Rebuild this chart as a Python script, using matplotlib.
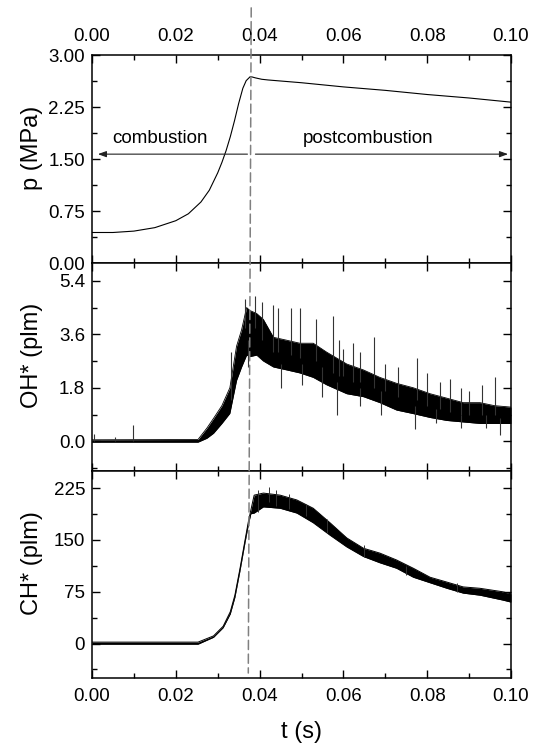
import numpy as np
import matplotlib
matplotlib.use("Agg")
import matplotlib.pyplot as plt
from matplotlib.ticker import MultipleLocator, FormatStrFormatter
from matplotlib.patches import ConnectionPatch

plt.rcParams['font.family'] = ['Liberation Sans', 'DejaVu Sans']

# ---- data ----
# pressure trace
t_p = [0.000, 0.005, 0.010, 0.015, 0.020, 0.023, 0.026, 0.028, 0.030, 0.031, 0.032,
       0.033, 0.034, 0.035, 0.036, 0.0368, 0.0378, 0.039, 0.0405, 0.042, 0.050,
       0.060, 0.070, 0.080, 0.090, 0.100]
p_mpa = [0.44, 0.44, 0.46, 0.51, 0.61, 0.71, 0.88, 1.05, 1.30, 1.45, 1.62,
         1.82, 2.05, 2.30, 2.52, 2.63, 2.69, 2.67, 2.65, 2.64, 2.60,
         2.54, 2.49, 2.43, 2.38, 2.32]

# OH* signal: lower / upper edge of the dense band
t_oh = [0.000, 0.0253, 0.0274, 0.0290, 0.0310, 0.0329, 0.0345, 0.0357, 0.0369, 0.0377,
        0.0393, 0.0409, 0.0433, 0.0465, 0.0496, 0.0528, 0.0560, 0.0608, 0.0648, 0.0687,
        0.0727, 0.0767, 0.0807, 0.0847, 0.0886, 0.0926, 0.0960, 0.1000]
oh_lo = [-0.03, -0.03, 0.10, 0.27, 0.60, 0.94, 2.05, 2.50, 2.90, 2.85,
         2.90, 2.70, 2.50, 2.40, 2.30, 2.15, 1.90, 1.60, 1.50, 1.30,
         1.05, 0.93, 0.80, 0.70, 0.65, 0.60, 0.60, 0.60]
oh_hi = [0.05, 0.06, 0.44, 0.77, 1.20, 1.80, 3.20, 3.75, 4.50, 4.40,
         4.30, 4.10, 3.50, 3.40, 3.30, 3.30, 3.00, 2.60, 2.40, 2.15,
         1.95, 1.80, 1.60, 1.45, 1.30, 1.30, 1.20, 1.15]
# OH* spikes: time, from, to
oh_spk_t = [0.0005, 0.0054, 0.0098, 0.0331, 0.0365, 0.0373, 0.0390, 0.0405, 0.0432, 0.0445,
            0.0450, 0.0475, 0.0496, 0.0500, 0.0535, 0.0550, 0.0575, 0.0584, 0.0590, 0.0600,
            0.0622, 0.0640, 0.0640, 0.0672, 0.0690, 0.0700, 0.0730, 0.0771, 0.0776, 0.0800,
            0.0820, 0.0830, 0.0854, 0.0880, 0.0880, 0.0900, 0.0930, 0.0940, 0.0962, 0.0974]
oh_spk_a = [0.0, 0.0, 0.0, 1.4, 3.8, 3.4, 3.8, 3.4, 3.0, 3.0,
            2.6, 2.9, 2.8, 2.6, 2.7, 2.5, 2.3, 2.0, 2.2, 2.2,
            2.0, 2.0, 1.8, 1.8, 1.7, 1.7, 1.5, 1.2, 1.4, 1.2,
            1.1, 1.1, 1.0, 0.9, 0.9, 0.9, 0.9, 0.9, 0.9, 0.8]
oh_spk_b = [0.25, 0.15, 0.55, 3.0, 4.8, 2.5, 4.9, 4.7, 4.6, 4.5,
            1.8, 4.5, 4.5, 1.9, 4.1, 1.5, 4.2, 0.87, 3.4, 3.1,
            3.3, 3.0, 1.2, 3.5, 0.9, 2.6, 2.5, 0.42, 2.8, 2.3,
            0.6, 2.0, 2.1, 1.8, 0.45, 1.7, 1.9, 0.45, 2.15, 0.2]

# CH* signal band
t_ch = [0.000, 0.0253, 0.0290, 0.0313, 0.0330, 0.0341, 0.0353, 0.0365, 0.0373, 0.0379,
        0.0387, 0.0409, 0.0449, 0.0489, 0.0528, 0.0568, 0.0608, 0.0648, 0.0687, 0.0727,
        0.0767, 0.0807, 0.0847, 0.0886, 0.0926, 0.0980, 0.1000]
ch_lo = [-1, -1, 9, 23, 43, 67, 105, 146, 172, 188,
         189, 198, 196, 189, 175, 157, 140, 126, 117, 109,
         96, 88, 80, 73, 70, 63, 60]
ch_hi = [2, 2, 11, 25, 46, 70, 108, 149, 176, 193,
         215, 218, 215, 208, 196, 175, 153, 138, 131, 121,
         109, 96, 89, 82, 80, 75, 72]
ch_spk_t = [0.0395, 0.0423, 0.0440, 0.0470, 0.0510, 0.0560, 0.0650, 0.0750, 0.0870]
ch_spk_a = [190, 205, 200, 195, 185, 160, 125, 100, 75]
ch_spk_b = [222, 227, 222, 216, 202, 180, 143, 113, 88]

t_end_comb = [0.0380, 0.0373]   # dashed line at top / bottom
y_arrow = 1.57
arr_left = [0.0014, 0.0371]
arr_right = [0.0390, 0.0993]

# ---- figure ----
fig = plt.figure(figsize=(5.36, 7.56), dpi=100)
L, W = 92 / 536, 419 / 536
ax0 = fig.add_axes([L, 1 - 263 / 756, W, 208 / 756])
ax1 = fig.add_axes([L, 1 - 471 / 756, W, 208 / 756])
ax2 = fig.add_axes([L, 1 - 678 / 756, W, 207 / 756])

for ax in (ax0, ax1, ax2):
    ax.set_xlim(0, 0.1)
    ax.xaxis.set_major_locator(MultipleLocator(0.02))
    ax.xaxis.set_minor_locator(MultipleLocator(0.01))
    ax.xaxis.set_major_formatter(FormatStrFormatter('%.2f'))
    ax.tick_params(which='both', direction='in', top=True, right=True,
                   width=1.0, labelsize=13.5)
    ax.tick_params(which='major', length=6)
    ax.tick_params(which='minor', length=3.3)
    ax.tick_params(axis='x', pad=7)
    ax.tick_params(axis='y', pad=5)
    for s in ax.spines.values():
        s.set_linewidth(1.1)

# pressure
ax0.plot(t_p, p_mpa, color='black', lw=0.8)
ax0.set_ylim(0, 3)
ax0.yaxis.set_major_locator(MultipleLocator(0.75))
ax0.yaxis.set_minor_locator(MultipleLocator(0.375))
ax0.yaxis.set_major_formatter(FormatStrFormatter('%.2f'))
ax0.tick_params(axis='x', labeltop=True, labelbottom=False)
ax0.set_ylabel('p (MPa)', fontsize=17)

ax0.annotate('', xy=(arr_left[0], y_arrow), xytext=(arr_left[1], y_arrow),
             arrowprops=dict(arrowstyle='-|>,head_length=0.5,head_width=0.18',
                             color='#222222', lw=0.8, shrinkA=0, shrinkB=0))
ax0.annotate('', xy=(arr_right[1], y_arrow), xytext=(arr_right[0], y_arrow),
             arrowprops=dict(arrowstyle='-|>,head_length=0.5,head_width=0.18',
                             color='#222222', lw=0.8, shrinkA=0, shrinkB=0))
ax0.text(0.0162, 1.73, 'combustion', ha='center', va='baseline', fontsize=13.5)
ax0.text(0.0658, 1.73, 'postcombustion', ha='center', va='baseline', fontsize=13.5)

# OH*
ax1.fill_between(t_oh, oh_lo, oh_hi, color='black', lw=0)
ax1.plot(t_oh, oh_lo, color='black', lw=0.6)
ax1.plot(t_oh, oh_hi, color='black', lw=0.6)
ax1.vlines(oh_spk_t, oh_spk_a, oh_spk_b, color='#333333', lw=0.8)
ax1.set_ylim(-1.0, 6.0)
ax1.yaxis.set_major_locator(MultipleLocator(1.8))
ax1.yaxis.set_minor_locator(MultipleLocator(0.9))
ax1.yaxis.set_major_formatter(FormatStrFormatter('%.1f'))
ax1.tick_params(axis='x', labelbottom=False)
ax1.set_ylabel('OH* (plm)', fontsize=17)

# CH*
ax2.fill_between(t_ch, ch_lo, ch_hi, color='black', lw=0)
ax2.plot(t_ch, ch_lo, color='black', lw=0.7)
ax2.plot(t_ch, ch_hi, color='black', lw=0.7)
ax2.vlines(ch_spk_t, ch_spk_a, ch_spk_b, color='#333333', lw=0.7)
ax2.set_ylim(-50, 250)
ax2.yaxis.set_major_locator(MultipleLocator(75))
ax2.yaxis.set_minor_locator(MultipleLocator(37.5))
ax2.yaxis.set_major_formatter(FormatStrFormatter('%d'))
ax2.set_ylabel('CH* (plm)', fontsize=17)
ax2.set_xlabel('t (s)', fontsize=17, labelpad=12)

for ax in (ax0, ax1, ax2):
    ax.yaxis.set_label_coords(-0.118, 0.555)

# end of combustion marker spanning all panels
con = ConnectionPatch(xyA=(t_end_comb[0], 3.68), coordsA=ax0.transData,
                      xyB=(t_end_comb[1], -42.8), coordsB=ax2.transData,
                      color='#808080', lw=1.1, linestyle=(0, (6, 3)))
fig.add_artist(con)

fig.savefig('out.png', dpi=100)
